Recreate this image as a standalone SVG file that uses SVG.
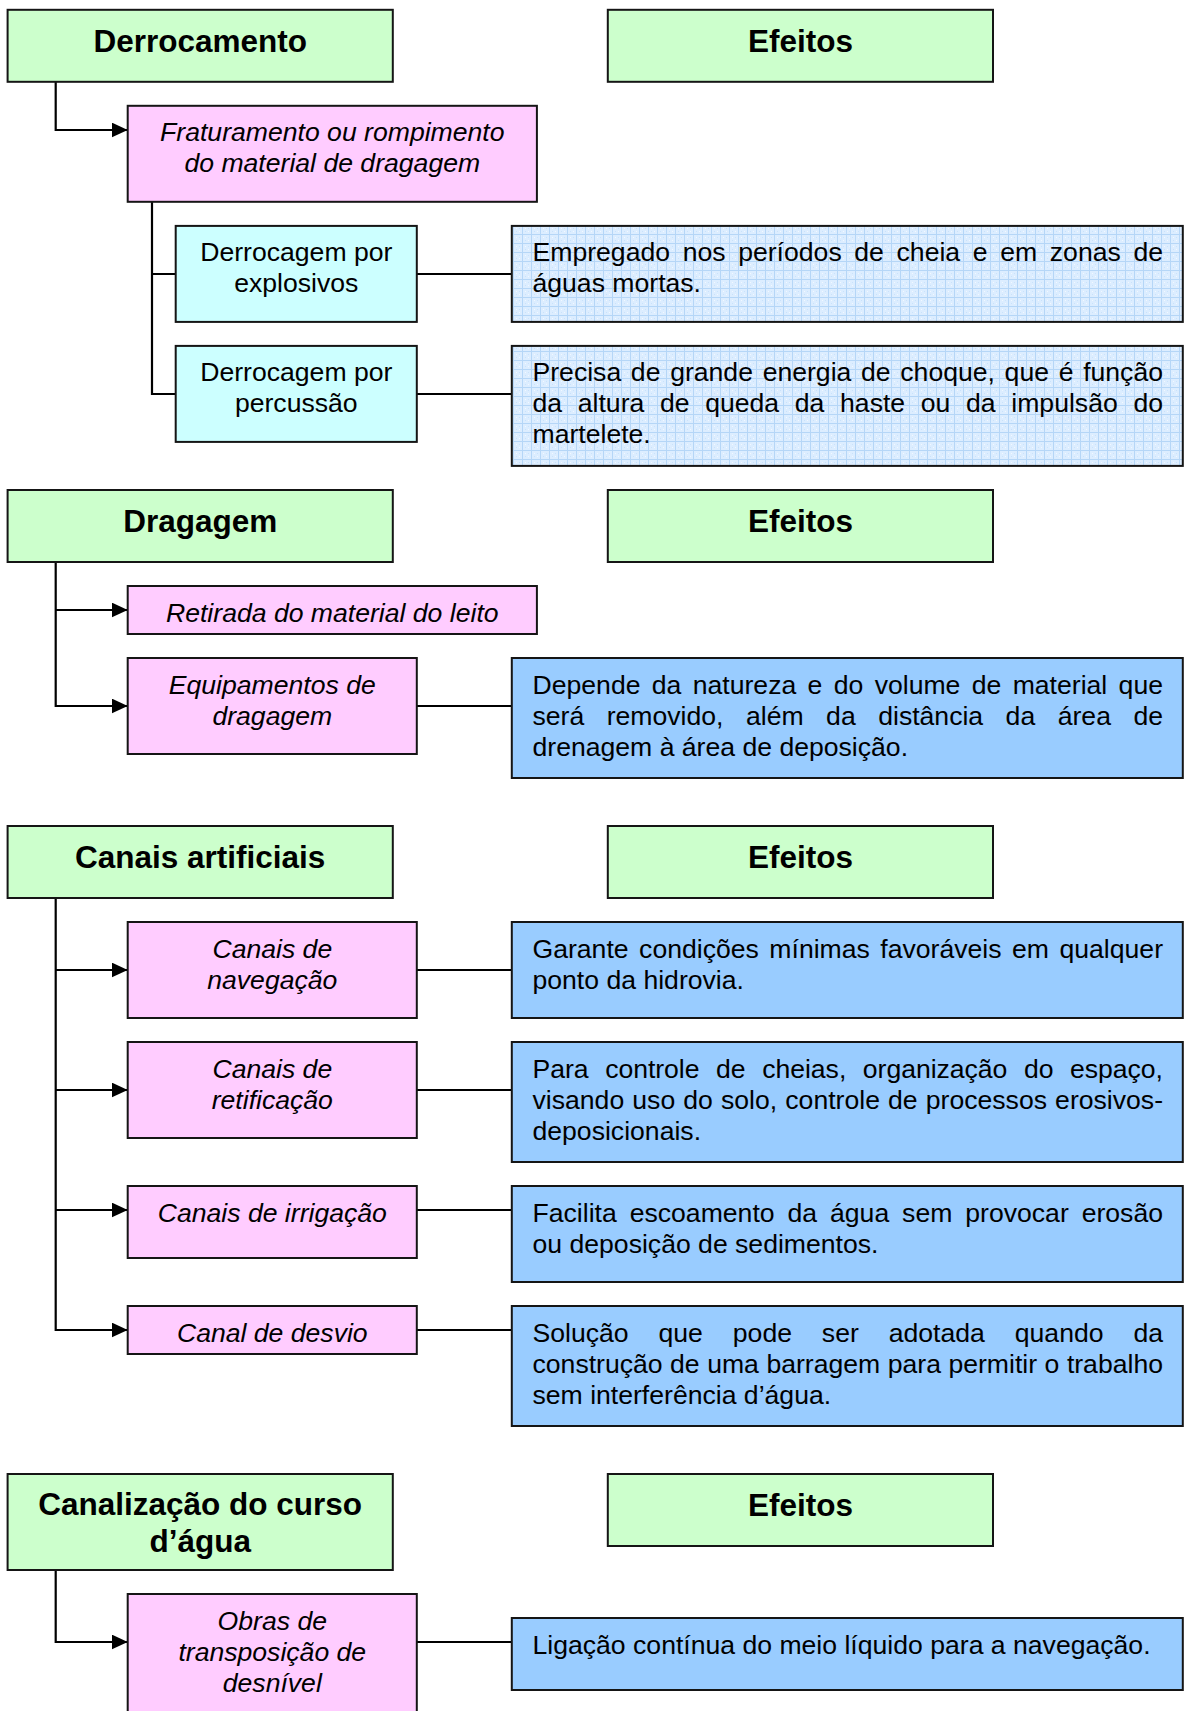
<svg xmlns="http://www.w3.org/2000/svg" width="1184" height="1711" viewBox="0 0 1184 1711">
  <defs>
    <style>
      .box{stroke:#151515;stroke-width:2}
      .g{fill:#ccffcc}
      .p{fill:#ffccff}
      .c{fill:#ccffff}
      .b{fill:#99ccff}
      .h{fill:url(#grid)}
      .hd{font-family:"Liberation Sans",Arial,Helvetica,sans-serif;font-weight:bold;font-size:31.5px;text-anchor:middle;fill:#000}
      .it{font-family:"Liberation Sans",Arial,Helvetica,sans-serif;font-style:italic;font-size:26.6px;text-anchor:middle;fill:#000}
      .rg{font-family:"Liberation Sans",Arial,Helvetica,sans-serif;font-size:26.6px;text-anchor:middle;fill:#000}
      .tx{font-family:"Liberation Sans",Arial,Helvetica,sans-serif;font-size:26.6px;fill:#000}
      .ln{stroke:#000;stroke-width:2.2;fill:none}
      .ar{marker-end:url(#arrow)}
    </style>
    <marker id="arrow" viewBox="0 0 16 15" refX="16" refY="7.5" markerWidth="16" markerHeight="15" markerUnits="userSpaceOnUse" orient="auto">
      <path d="M0,0 L16,7.5 L0,15 z" fill="#000"/>
    </marker>
    <pattern id="grid" width="9" height="9" patternUnits="userSpaceOnUse">
      <rect width="9" height="9" fill="#dcedff"/>
      <path d="M0,0.5H9M0.5,0V9" stroke="#b5d6f7" stroke-width="1"/>
      <rect x="3" y="3" width="1" height="1" fill="#f2f8ff"/>
      <rect x="6" y="6" width="1" height="1" fill="#f2f8ff"/>
      <rect x="6" y="3" width="1" height="1" fill="#c9e2fb"/>
      <rect x="3" y="6" width="1" height="1" fill="#c9e2fb"/>
    </pattern>
  </defs>

  <!-- connectors -->
  <g id="connectors">
    <path class="ln ar" d="M55.7,81.8V130H127.7"/>
    <path class="ln" d="M152,202V394H175.7M152,274H175.7"/>
    <path class="ln" d="M416.8,274H511.8M416.8,394H511.8"/>

    <path class="ln ar" d="M55.7,562V706H127.7"/>
    <path class="ln ar" d="M55.7,610H127.7"/>
    <path class="ln" d="M416.8,706H511.8"/>

    <path class="ln ar" d="M55.7,898V1330H127.7"/>
    <path class="ln ar" d="M55.7,970H127.7"/>
    <path class="ln ar" d="M55.7,1090H127.7"/>
    <path class="ln ar" d="M55.7,1210H127.7"/>
    <path class="ln" d="M416.8,970H511.8M416.8,1090H511.8M416.8,1210H511.8M416.8,1330H511.8"/>

    <path class="ln ar" d="M55.7,1570V1642H127.7"/>
    <path class="ln" d="M416.8,1642H511.8"/>
  </g>

  <!-- Derrocamento -->
  <g id="derrocamento">
    <rect class="box g" x="7.6" y="9.8" width="385.2" height="72"/>
    <text class="hd" x="200.2" y="51.8">Derrocamento</text>
  </g>
  <g id="efeitos-1">
    <rect class="box g" x="607.8" y="9.8" width="385.2" height="72"/>
    <text class="hd" x="800.4" y="51.8">Efeitos</text>
  </g>
  <g id="fraturamento">
    <rect class="box p" x="127.7" y="105.8" width="409.2" height="96"/>
    <text class="it" x="332.3" y="141.3">Fraturamento ou rompimento</text>
    <text class="it" x="332.3" y="172.3">do material de dragagem</text>
  </g>
  <g id="explosivos">
    <rect class="box c" x="175.7" y="225.9" width="241.1" height="96"/>
    <text class="rg" x="296.3" y="261.4">Derrocagem por</text>
    <text class="rg" x="296.3" y="292.4">explosivos</text>
  </g>
  <g id="efeito-explosivos">
    <rect class="box h" x="511.8" y="225.9" width="671" height="96"/>
    <text class="tx" x="532.5" y="261.4" word-spacing="5.25" textLength="630.5" lengthAdjust="spacing">Empregado nos períodos de cheia e em zonas de</text>
    <text class="tx" x="532.5" y="292.4">águas mortas.</text>
  </g>
  <g id="percussao">
    <rect class="box c" x="175.7" y="345.9" width="241.1" height="96"/>
    <text class="rg" x="296.3" y="381.4">Derrocagem por</text>
    <text class="rg" x="296.3" y="412.4">percussão</text>
  </g>
  <g id="efeito-percussao">
    <rect class="box h" x="511.8" y="345.9" width="671" height="120"/>
    <text class="tx" x="532.5" y="381.4" word-spacing="2.29" textLength="630.5" lengthAdjust="spacing">Precisa de grande energia de choque, que é função</text>
    <text class="tx" x="532.5" y="412.4" word-spacing="8.28" textLength="630.5" lengthAdjust="spacing">da altura de queda da haste ou da impulsão do</text>
    <text class="tx" x="532.5" y="443.4">martelete.</text>
  </g>

  <!-- Dragagem -->
  <g id="dragagem">
    <rect class="box g" x="7.6" y="490" width="385.2" height="72"/>
    <text class="hd" x="200.2" y="532">Dragagem</text>
  </g>
  <g id="efeitos-2">
    <rect class="box g" x="607.8" y="490" width="385.2" height="72"/>
    <text class="hd" x="800.4" y="532">Efeitos</text>
  </g>
  <g id="retirada">
    <rect class="box p" x="127.7" y="586" width="409.2" height="48"/>
    <text class="it" x="332.3" y="621.5">Retirada do material do leito</text>
  </g>
  <g id="equipamentos">
    <rect class="box p" x="127.7" y="658" width="289.1" height="96"/>
    <text class="it" x="272.3" y="693.5">Equipamentos de</text>
    <text class="it" x="272.3" y="724.5">dragagem</text>
  </g>
  <g id="efeito-equipamentos">
    <rect class="box b" x="511.8" y="658" width="671" height="120"/>
    <text class="tx" x="532.5" y="693.5" word-spacing="3.96" textLength="630.5" lengthAdjust="spacing">Depende da natureza e do volume de material que</text>
    <text class="tx" x="532.5" y="724.5" word-spacing="15.1" textLength="630.5" lengthAdjust="spacing">será removido, além da distância da área de</text>
    <text class="tx" x="532.5" y="755.5">drenagem à área de deposição.</text>
  </g>

  <!-- Canais artificiais -->
  <g id="canais-artificiais">
    <rect class="box g" x="7.6" y="826" width="385.2" height="72"/>
    <text class="hd" x="200.2" y="868">Canais artificiais</text>
  </g>
  <g id="efeitos-3">
    <rect class="box g" x="607.8" y="826" width="385.2" height="72"/>
    <text class="hd" x="800.4" y="868">Efeitos</text>
  </g>
  <g id="navegacao">
    <rect class="box p" x="127.7" y="922" width="289.1" height="96"/>
    <text class="it" x="272.3" y="957.5">Canais de</text>
    <text class="it" x="272.3" y="988.5">navegação</text>
  </g>
  <g id="efeito-navegacao">
    <rect class="box b" x="511.8" y="922" width="671" height="96"/>
    <text class="tx" x="532.5" y="957.5" word-spacing="3.1" textLength="630.5" lengthAdjust="spacing">Garante condições mínimas favoráveis em qualquer</text>
    <text class="tx" x="532.5" y="988.5">ponto da hidrovia.</text>
  </g>
  <g id="retificacao">
    <rect class="box p" x="127.7" y="1042" width="289.1" height="96"/>
    <text class="it" x="272.3" y="1077.5">Canais de</text>
    <text class="it" x="272.3" y="1108.5">retificação</text>
  </g>
  <g id="efeito-retificacao">
    <rect class="box b" x="511.8" y="1042" width="671" height="120"/>
    <text class="tx" x="532.5" y="1077.5" word-spacing="9.23" textLength="630.5" lengthAdjust="spacing">Para controle de cheias, organização do espaço,</text>
    <text class="tx" x="532.5" y="1108.5" word-spacing="0.73" textLength="630.5" lengthAdjust="spacing">visando uso do solo, controle de processos erosivos-</text>
    <text class="tx" x="532.5" y="1139.5">deposicionais.</text>
  </g>
  <g id="irrigacao">
    <rect class="box p" x="127.7" y="1186" width="289.1" height="72"/>
    <text class="it" x="272.3" y="1221.5">Canais de irrigação</text>
  </g>
  <g id="efeito-irrigacao">
    <rect class="box b" x="511.8" y="1186" width="671" height="96"/>
    <text class="tx" x="532.5" y="1221.5" word-spacing="5.54" textLength="630.5" lengthAdjust="spacing">Facilita escoamento da água sem provocar erosão</text>
    <text class="tx" x="532.5" y="1252.5">ou deposição de sedimentos.</text>
  </g>
  <g id="desvio">
    <rect class="box p" x="127.7" y="1306" width="289.1" height="48"/>
    <text class="it" x="272.3" y="1341.5">Canal de desvio</text>
  </g>
  <g id="efeito-desvio">
    <rect class="box b" x="511.8" y="1306" width="671" height="120"/>
    <text class="tx" x="532.5" y="1341.5" word-spacing="22.5" textLength="630.5" lengthAdjust="spacing">Solução que pode ser adotada quando da</text>
    <text class="tx" x="532.5" y="1372.5" word-spacing="0.1" textLength="630.5" lengthAdjust="spacing">construção de uma barragem para permitir o trabalho</text>
    <text class="tx" x="532.5" y="1403.5">sem interferência d’água.</text>
  </g>

  <!-- Canalização do curso d'água -->
  <g id="canalizacao">
    <rect class="box g" x="7.6" y="1474" width="385.2" height="96"/>
    <text class="hd" x="200.2" y="1515">Canalização do curso</text>
    <text class="hd" x="200.2" y="1552">d’água</text>
  </g>
  <g id="efeitos-4">
    <rect class="box g" x="607.8" y="1474" width="385.2" height="72"/>
    <text class="hd" x="800.4" y="1516">Efeitos</text>
  </g>
  <g id="transposicao">
    <rect class="box p" x="127.7" y="1594" width="289.1" height="130"/>
    <text class="it" x="272.3" y="1629.5">Obras de</text>
    <text class="it" x="272.3" y="1660.5">transposição de</text>
    <text class="it" x="272.3" y="1691.5">desnível</text>
  </g>
  <g id="efeito-transposicao">
    <rect class="box b" x="511.8" y="1618" width="671" height="72"/>
    <text class="tx" x="532.5" y="1653.5">Ligação contínua do meio líquido para a navegação.</text>
  </g>
</svg>
